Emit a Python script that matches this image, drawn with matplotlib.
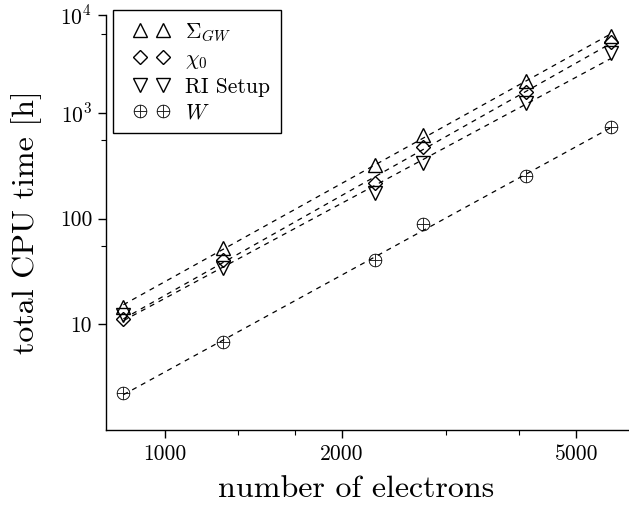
import numpy as np
import matplotlib
matplotlib.use('Agg')
import matplotlib.pyplot as plt
from matplotlib.ticker import FixedLocator, NullFormatter
from matplotlib.legend_handler import HandlerLine2D

plt.rcParams['font.family'] = 'serif'
plt.rcParams['font.serif'] = ['cmr10', 'DejaVu Serif']
plt.rcParams['mathtext.fontset'] = 'cm'
plt.rcParams['axes.unicode_minus'] = False

# number of electrons
electrons = [851, 1254, 2275, 2742, 4107, 5725]

# total CPU time [h]
sigma_gw = [14.6, 52.5, 318, 617, 2000, 5340]
chi0 = [11.3, 40.4, 216, 474, 1574, 4710]
ri_setup = [12.2, 34, 174, 335, 1240, 3660]
w_time = [2.22, 6.75, 40.4, 88, 250, 730]

series = [
    (sigma_gw, '^', r'$\Sigma_{GW}$', 9.5),
    (chi0, 'D', r'$\chi_0$', 7.5),
    (ri_setup, 'v', 'RI Setup', 9.5),
    (w_time, r'$\oplus$', r'$W$', 9.5),
]

x_major = [1000, 2000, 5000]
x_minor = [1333, 1667, 3000, 4000]
y_top = 8400
y_major = [10, 100, 1000, y_top]
y_major_labels = ['10', '100', r'$10^3$', r'$10^4$']
y_minor = [55, 550, 5500]

fig = plt.figure(figsize=(6.29, 5.09), dpi=100)
ax = fig.add_axes([0.1685, 0.155, 0.8315, 0.8155])

x = np.array(electrons, dtype=float)
for values, marker, label, ms in series:
    y = np.array(values, dtype=float)
    # power-law fit, drawn as dashed line across the data range
    slope, icpt = np.polyfit(np.log10(x), np.log10(y), 1)
    xf = np.array([x.min(), x.max()])
    ax.plot(xf, 10 ** (icpt + slope * np.log10(xf)), color='black',
            lw=0.9, dashes=(4, 4), zorder=1)
    if marker.startswith('$'):
        ax.plot(x, y, linestyle='none', marker=marker, markersize=ms,
                color='black', markeredgewidth=0.2, label=label, zorder=2)
    else:
        ax.plot(x, y, linestyle='none', marker=marker, markersize=ms,
                markerfacecolor='none', markeredgecolor='black',
                markeredgewidth=1.0, label=label, zorder=2)

ax.set_xscale('log')
ax.set_yscale('log')
ax.set_xlim(795, 6140)
ax.set_ylim(1, y_top)

ax.xaxis.set_major_locator(FixedLocator(x_major))
ax.set_xticklabels([str(v) for v in x_major])
ax.xaxis.set_minor_locator(FixedLocator(x_minor))
ax.xaxis.set_minor_formatter(NullFormatter())
ax.yaxis.set_major_locator(FixedLocator(y_major))
ax.set_yticklabels(y_major_labels)
ax.yaxis.set_minor_locator(FixedLocator(y_minor))
ax.yaxis.set_minor_formatter(NullFormatter())

for side in ['top', 'right']:
    ax.spines[side].set_visible(False)
for side in ['left', 'bottom']:
    ax.spines[side].set_linewidth(1.0)
ax.tick_params(which='major', direction='out', length=6, width=1.0,
               labelsize=15.5, pad=4)
ax.tick_params(which='minor', direction='out', length=3.5, width=0.8)

ax.set_xlabel('number of electrons', fontsize=23)
ax.xaxis.set_label_coords(0.478, -0.11)
ax.set_ylabel('total CPU time [h]', fontsize=23, labelpad=13)

leg = ax.legend(loc='upper left', bbox_to_anchor=(112.7 / 629, 1 - 10 / 509),
                bbox_transform=fig.transFigure, borderaxespad=0,
                handler_map={plt.Line2D: HandlerLine2D(numpoints=2, marker_pad=0.77)},
                handlelength=2.6, handletextpad=0.26,
                labelspacing=0.3, borderpad=0.5, fontsize=15.5,
                fancybox=False, framealpha=1, edgecolor='black')
leg.get_frame().set_linewidth(1.0)

fig.savefig('out.png', dpi=100)
